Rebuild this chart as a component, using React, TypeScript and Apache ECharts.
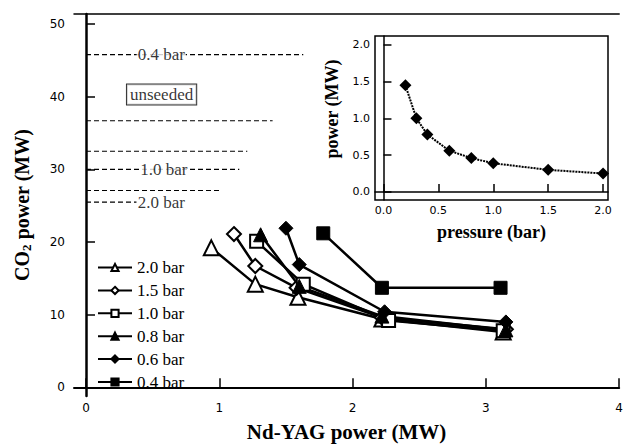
import React, { useEffect, useRef } from "react";
import * as echarts from "echarts";

const seriesNames = ["2.0 bar", "1.5 bar", "1.0 bar", "0.8 bar", "0.6 bar", "0.4 bar"];
const ndyag20 = [0.94, 1.27, 1.59, 2.22, 3.13];
const co2_20 = [19.2, 14.2, 12.4, 9.4, 7.6];
const ndyag15 = [1.11, 1.27, 1.58, 2.22, 3.15];
const co2_15 = [21.1, 16.7, 13.7, 9.6, 8.0];
const ndyag10 = [1.28, 1.63, 2.27, 3.13];
const co2_10 = [20.1, 14.2, 9.2, 7.8];
const ndyag08 = [1.31, 1.6, 2.22, 3.15];
const co2_08 = [21.0, 13.9, 9.8, 7.9];
const ndyag06 = [1.5, 1.6, 2.24, 3.15];
const co2_06 = [21.9, 16.9, 10.4, 9.0];
const ndyag04 = [1.78, 2.22, 3.11];
const co2_04 = [21.2, 13.7, 13.7];

const unseededLevels = [45.8, 36.7, 32.5, 30.0, 27.1, 25.5];
const unseededStart = 0.0;
const unseededEnds = [1.63, 1.4, 1.21, 1.15, 1.0, 0.38];
const levelLabelTexts = ["0.4 bar", "1.0 bar", "2.0 bar"];
const levelLabelX = [0.38, 0.4, 0.38];
const levelLabelY = [45.8, 30.0, 25.5];
const boxLabelText = "unseeded";
const boxLabelX = 0.567;
const boxLabelY = 40.3;

const yTicks = [0, 10, 20, 30, 40, 50];
const xTicks = [0, 1, 2, 3, 4];

const pressure = [0.2, 0.3, 0.4, 0.6, 0.8, 1.0, 1.5, 2.0];
const insetPower = [1.45, 1.0, 0.78, 0.56, 0.46, 0.39, 0.3, 0.25];
const insetYTicks = [0, 0.5, 1.0, 1.5, 2.0];
const insetXTicks = [0, 0.5, 1.0, 1.5, 2.0];

const SERIF = "Liberation Serif";
const SANS = "DejaVu Sans";

const zip = (xs: number[], ys: number[]) => xs.map((x, i) => [x, ys[i]]);

export default function App() {
  const ref = useRef<HTMLDivElement>(null);
  useEffect(() => {
    if (!ref.current) return;
    const chart = echarts.init(ref.current, null, { renderer: "svg" });
    const open = { color: "#fff", borderColor: "#000", borderWidth: 2 };
    const filled = { color: "#000", borderColor: "#000", borderWidth: 1 };
    const mk = (name: string, xs: number[], ys: number[], symbol: string, size: number, item: any) => ({
      name,
      type: "line",
      xAxisIndex: 0,
      yAxisIndex: 0,
      data: zip(xs, ys),
      symbol,
      symbolSize: size,
      showAllSymbol: true,
      lineStyle: { color: "#000", width: 2.5 },
      itemStyle: item,
      z: 3,
    });
    const mainSeries = [
      mk(seriesNames[0], ndyag20, co2_20, "triangle", 15, open),
      mk(seriesNames[1], ndyag15, co2_15, "diamond", 14, open),
      mk(seriesNames[2], ndyag10, co2_10, "rect", 13, open),
      mk(seriesNames[3], ndyag08, co2_08, "triangle", 14, filled),
      mk(seriesNames[4], ndyag06, co2_06, "diamond", 14, filled),
      mk(seriesNames[5], ndyag04, co2_04, "rect", 13, filled),
    ];
    const dashed = unseededLevels.map((y, i) => ({
      type: "line",
      xAxisIndex: 0,
      yAxisIndex: 0,
      data: [
        [unseededStart, y],
        [unseededEnds[i], y],
      ],
      symbol: "none",
      silent: true,
      lineStyle: { color: "#000", width: 1.2, type: [5, 3] },
      z: 1,
    }));
    const labelSeries = {
      type: "scatter",
      xAxisIndex: 0,
      yAxisIndex: 0,
      symbolSize: 0,
      silent: true,
      z: 2,
      data: levelLabelTexts.map((t, i) => [levelLabelX[i], levelLabelY[i], t]),
      label: {
        show: true,
        position: "right",
        distance: 0,
        formatter: (p: any) => p.value[2],
        fontFamily: SERIF,
        fontSize: 17,
        color: "#000",
        backgroundColor: "#fff",
        padding: [0, 1],
      },
    };
    const boxSeries = {
      type: "scatter",
      xAxisIndex: 0,
      yAxisIndex: 0,
      symbolSize: 0,
      silent: true,
      z: 2,
      data: [[boxLabelX, boxLabelY, boxLabelText]],
      label: {
        show: true,
        position: "inside",
        formatter: (p: any) => p.value[2],
        fontFamily: SERIF,
        fontSize: 17,
        color: "#000",
        backgroundColor: "#fff",
        borderColor: "#000",
        borderWidth: 1,
        padding: [2, 3, 1, 3],
      },
    };
    const insetSeries = {
      type: "line",
      xAxisIndex: 2,
      yAxisIndex: 1,
      data: zip(pressure, insetPower),
      symbol: "diamond",
      symbolSize: 12,
      lineStyle: { color: "#000", width: 2, type: [2, 1] },
      itemStyle: { color: "#000" },
      z: 5,
    };
    chart.setOption({
      animation: false,
      backgroundColor: "#fff",
      legend: {
        data: seriesNames,
        orient: "vertical",
        left: 92,
        top: 254,
        itemWidth: 34,
        itemHeight: 9,
        itemGap: 5.9,
        textStyle: { fontFamily: SERIF, fontSize: 17, color: "#000", lineHeight: 17 },
        selectedMode: false,
      },
      grid: [
        { left: 74, top: 14, right: 1, bottom: 45 },
        {
          left: 375,
          top: 36,
          right: 18,
          bottom: 247,
          show: true,
          backgroundColor: "#fff",
          borderColor: "#000",
          borderWidth: 1.5,
          z: 4,
        },
      ],
      xAxis: [
        {
          type: "value",
          gridIndex: 0,
          min: -0.09,
          max: 4.0,
          splitLine: { show: false },
          axisLine: { lineStyle: { color: "#000", width: 2 } },
          axisTick: { inside: true, length: 9, customValues: xTicks, lineStyle: { width: 1.5 } },
          axisLabel: { customValues: xTicks, fontFamily: SANS, fontSize: 12, color: "#000", margin: 6 },
          name: "Nd-YAG power (MW)",
          nameLocation: "middle",
          nameGap: 25,
          nameTextStyle: {
            fontFamily: SERIF,
            fontSize: 21,
            fontWeight: "bold",
            color: "#000",
          },
        },
        {
          type: "value",
          gridIndex: 0,
          position: "top",
          min: -0.09,
          max: 4.0,
          splitLine: { show: false },
          axisLine: { lineStyle: { color: "#000", width: 1.5 } },
          axisTick: { show: false },
          axisLabel: { show: false },
        },
        {
          type: "value",
          gridIndex: 1,
          min: -0.077,
          max: 2.045,
          splitLine: { show: false },
          axisLine: { lineStyle: { color: "#000", width: 1.5 } },
          axisTick: { inside: true, length: 8, customValues: insetXTicks, lineStyle: { width: 1.5 } },
          axisLabel: {
            customValues: insetXTicks,
            formatter: (v: number) => v.toFixed(1),
            fontFamily: SANS,
            fontSize: 11,
            color: "#000",
            margin: 5,
          },
          name: "pressure (bar)",
          nameLocation: "middle",
          nameGap: 23,
          nameTextStyle: { fontFamily: SERIF, fontSize: 18, fontWeight: "bold", color: "#000" },
          z: 6,
        },
      ],
      yAxis: [
        {
          type: "value",
          gridIndex: 0,
          min: -1.2,
          max: 51.4,
          splitLine: { show: false },
          axisLine: { lineStyle: { color: "#000", width: 2.5 } },
          axisTick: { inside: true, length: 9, customValues: yTicks, lineStyle: { width: 1.5 } },
          axisLabel: { customValues: yTicks, fontFamily: SANS, fontSize: 12, color: "#000", margin: 9 },
          name: "CO{sub|2} power (MW)",
          nameLocation: "middle",
          nameGap: 41,
          nameTextStyle: {
            fontFamily: SERIF,
            fontSize: 20,
            fontWeight: "bold",
            color: "#000",
            rich: {
              sub: {
                fontFamily: SERIF,
                fontSize: 13,
                fontWeight: "bold",
                color: "#000",
                verticalAlign: "bottom",
                padding: [10, 0, 0, 0],
              },
            },
          },
        },
        {
          type: "value",
          gridIndex: 1,
          min: -0.11,
          max: 2.12,
          splitLine: { show: false },
          axisLine: { lineStyle: { color: "#000", width: 1.5 } },
          axisTick: { inside: true, length: 8, customValues: insetYTicks, lineStyle: { width: 1.5 } },
          axisLabel: {
            customValues: insetYTicks,
            formatter: (v: number) => v.toFixed(1),
            fontFamily: SANS,
            fontSize: 11,
            color: "#000",
            margin: 5,
          },
          name: "power (MW)",
          nameLocation: "middle",
          nameGap: 34,
          nameTextStyle: {
            fontFamily: SERIF,
            fontSize: 18,
            fontWeight: "bold",
            color: "#000",
            padding: [0, 0, 0, 18],
          },
          z: 6,
        },
      ],
      series: [...dashed, labelSeries, boxSeries, ...mainSeries, insetSeries],
    });
    return () => chart.dispose();
  }, []);
  return (
    <div
      ref={ref}
      style={{ position: "absolute", left: 0, top: 0, width: 626, height: 447 }}
    />
  );
}
